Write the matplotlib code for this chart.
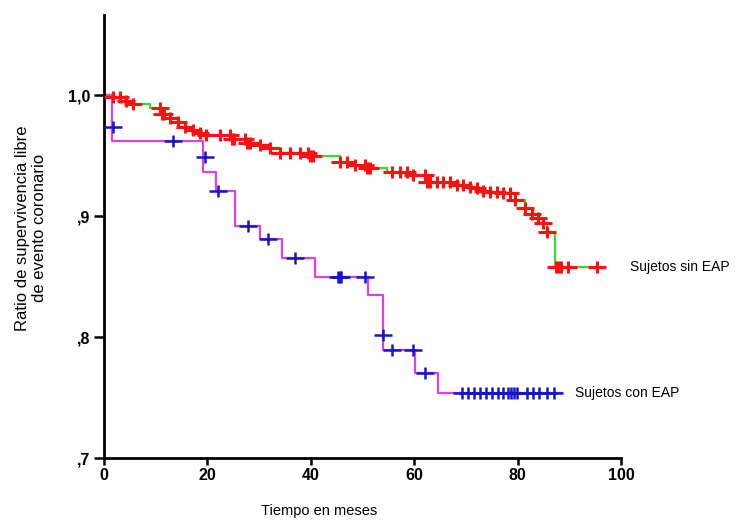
import numpy as np
import matplotlib
matplotlib.use('Agg')
from matplotlib import pyplot as plt
from matplotlib.path import Path

# grupo sin EAP: tiempos de evento y supervivencia tras cada escalon
sin_t = [0, 1.7, 4.1, 5.6, 8.9, 11.2, 12.8, 14.3, 15.7, 17.2, 18.6, 19.7, 24.8, 27.7,
         30.2, 32.1, 34.0, 39.8, 45.6, 48.5, 50.9, 54.7, 59.8, 62.5, 68.3, 70.8, 72.1,
         73.3, 74.7, 77.2, 79.5, 81.4, 82.8, 83.9, 84.9, 85.7, 87.2]
sin_s = [1.000, 0.998, 0.995, 0.993, 0.989, 0.984, 0.981, 0.978, 0.974, 0.971, 0.969,
         0.967, 0.964, 0.960, 0.959, 0.956, 0.952, 0.950, 0.945, 0.942, 0.940, 0.936,
         0.934, 0.928, 0.926, 0.924, 0.923, 0.921, 0.920, 0.919, 0.913, 0.907, 0.902,
         0.898, 0.894, 0.887, 0.858]
sin_fin = 95.4
sin_cens = [1.7, 3.1, 4.3, 5.6, 10.8, 11.2, 11.6, 12.8, 14.3, 15.7, 17.2, 18.6, 19.7,
            22.4, 24.4, 24.8, 25.1, 27.3, 27.7, 28.2, 30.2, 32.1, 34.0, 36.0, 37.9,
            39.5, 39.8, 40.4, 45.6, 47.0, 48.5, 50.5, 50.9, 51.5, 55.7, 57.3, 58.6,
            59.8, 62.1, 62.5, 63.1, 64.4, 65.6, 66.9, 68.3, 69.4, 70.8, 72.1, 73.3,
            74.7, 76.0, 77.2, 78.5, 79.5, 81.4, 82.8, 83.9, 84.9, 85.7, 87.4, 87.8,
            88.4, 89.7, 95.4]

# grupo con EAP
con_t = [0, 1.5, 19.1, 21.7, 25.3, 30.2, 34.4, 40.8, 51.1, 54.0, 60.2, 64.6]
con_s = [1.000, 0.962, 0.936, 0.921, 0.892, 0.881, 0.865, 0.850, 0.835, 0.789, 0.770, 0.754]
con_fin = 88.6
con_cens = [1.7, 13.3, 19.5, 22.0, 27.9, 31.7, 36.9, 45.3, 45.6, 45.9, 50.5, 54.0,
            55.7, 59.8, 62.1, 69.2, 70.4, 71.6, 72.7, 73.9, 75.0, 76.2, 77.2, 78.1,
            78.7, 79.3, 79.9, 81.8, 83.0, 84.1, 85.7, 87.0]
con_cens_s = [0.974, 0.962, 0.949, 0.921, 0.892, 0.881, 0.865, 0.850, 0.850, 0.850,
              0.850, 0.802, 0.789, 0.789, 0.770] + [0.754] * 17

# marca de censura: cruz con brazo horizontal mas largo
cruz = Path([(-1, 0), (1, 0), (0, -0.65), (0, 0.65)],
            [Path.MOVETO, Path.LINETO, Path.MOVETO, Path.LINETO])


def valor_en(t, tiempos, surv):
    i = np.searchsorted(tiempos, t, side='right') - 1
    return surv[i]


plt.rcParams['font.family'] = ['Liberation Sans', 'DejaVu Sans']
fig = plt.figure(figsize=(7.56, 5.25), dpi=100)
ax = fig.add_axes([0.1376, 0.1276, 0.6838, 0.8434])

ax.step(sin_t + [sin_fin], sin_s + [sin_s[-1]], where='post', color='#33dd33', lw=1.6, zorder=2)
sin_y = [valor_en(t, sin_t, sin_s) for t in sin_cens]
ax.plot(sin_cens, sin_y, ls='none', marker=cruz, ms=13, mew=2.2, color='#ff1010', zorder=3)

ax.step(con_t + [con_fin], con_s + [con_s[-1]], where='post', color='#e040e0', lw=1.6, zorder=2)
ax.plot(con_cens, con_cens_s, ls='none', marker=cruz, ms=13, mew=1.8, color='#1414d0', zorder=3)

ax.text(101.8, 0.858, 'Sujetos sin EAP', fontsize=10, va='center', ha='left', clip_on=False)
ax.text(91.2, 0.754, 'Sujetos con EAP', fontsize=10, va='center', ha='left', clip_on=False)

ax.set_xlim(0, 100)
ax.set_ylim(0.7, 1.066)
ax.set_xticks([0, 20, 40, 60, 80, 100])
ax.set_xticklabels(['0', '20', '40', '60', '80', '100'], fontweight='bold', fontsize=11.5)
ax.set_yticks([0.7, 0.8, 0.9, 1.0])
ax.set_yticklabels([',7', ',8', ',9', '1,0'], fontweight='bold', fontsize=11.5)
ax.tick_params(axis='x', direction='out', length=5, width=1.8, pad=2)
ax.tick_params(axis='y', direction='out', length=7, width=1.8, pad=3)

for lado in ['top', 'right']:
    ax.spines[lado].set_visible(False)
for lado in ['left', 'bottom']:
    ax.spines[lado].set_linewidth(2)

ax.set_xlabel('Tiempo en meses', fontsize=10.5)
ax.xaxis.set_label_coords(0.416, -0.104)
ax.set_ylabel('Ratio de supervivencia libre\nde evento coronario', fontsize=12)
ax.yaxis.set_label_coords(-0.11, 0.52)

plt.savefig('out.png', dpi=100)
